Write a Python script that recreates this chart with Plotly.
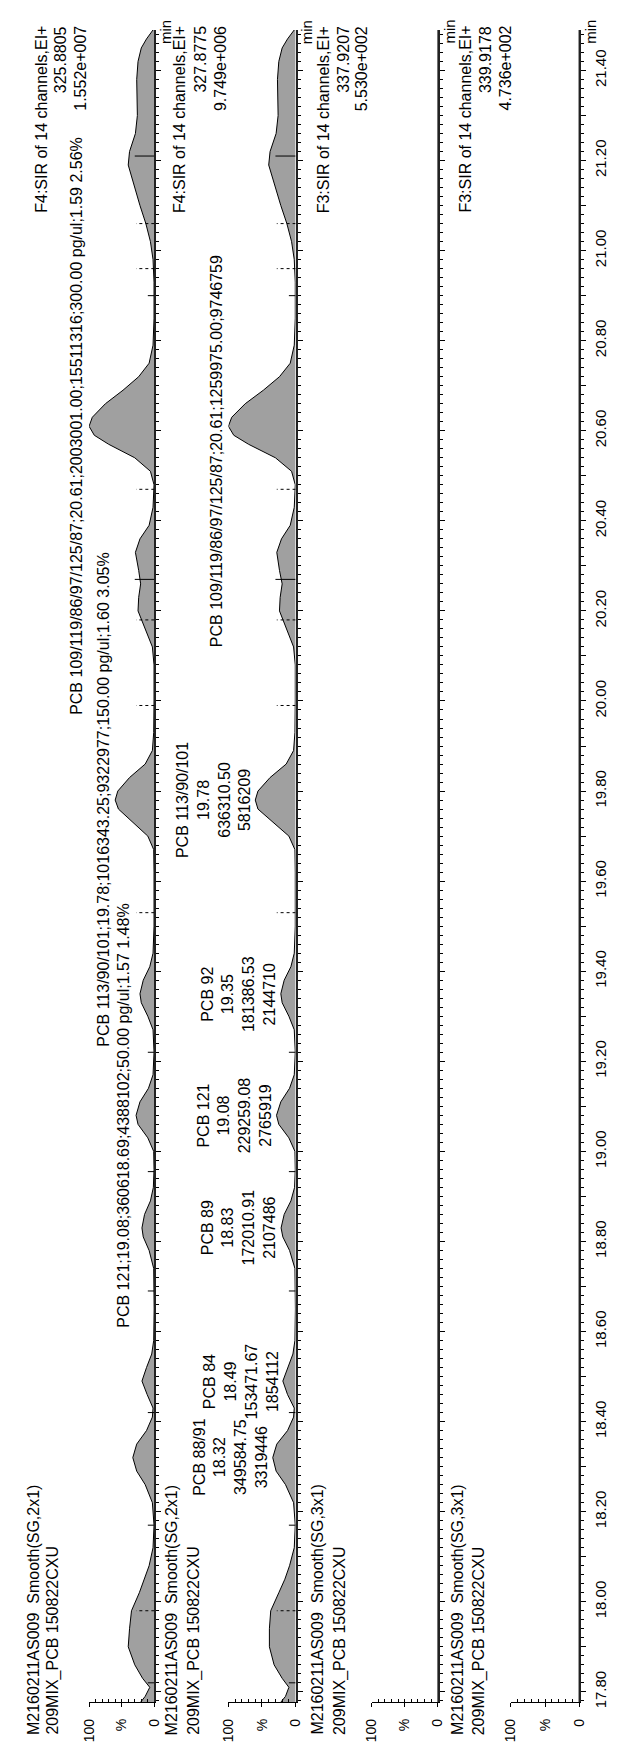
import plotly.graph_objects as go

W, H = 621, 1750
FONT = "Liberation Sans, Arial, sans-serif"

# ---- chromatogram traces (retention time in min, intensity in % of panel max) ----
rt_p1 = [17.777, 17.79, 17.81, 17.83, 17.86, 17.90, 17.94, 17.98, 18.02, 18.05, 18.08, 18.12,
         18.17, 18.22, 18.26, 18.29, 18.32, 18.35, 18.38, 18.41, 18.43, 18.46, 18.49, 18.52,
         18.55, 18.58, 18.65, 18.74, 18.78, 18.81, 18.83, 18.86, 18.89, 18.92, 18.96, 19.00,
         19.03, 19.06, 19.08, 19.11, 19.14, 19.17, 19.22, 19.27, 19.30, 19.33, 19.35, 19.38,
         19.41, 19.44, 19.50, 19.62, 19.67, 19.70, 19.73, 19.76, 19.78, 19.80, 19.83, 19.86,
         19.89, 19.93, 20.00, 20.08, 20.12, 20.16, 20.20, 20.23, 20.26, 20.29, 20.33, 20.36,
         20.39, 20.43, 20.48, 20.51, 20.54, 20.57, 20.59, 20.61, 20.63, 20.66, 20.69, 20.72,
         20.75, 20.79, 20.85, 20.93, 20.98, 21.02, 21.06, 21.10, 21.15, 21.19, 21.22, 21.26,
         21.30, 21.34, 21.38, 21.42, 21.45, 21.47, 21.49]
int_p1 = [21, 14, 7, 18, 30, 40, 38, 35, 23, 15, 8, 2,
          0.5, 3, 14, 27, 33, 27, 12, 3, 2, 11, 19, 12,
          4, 1, 0.3, 1, 8, 17, 19, 15, 6, 1.5, 0.5, 1,
          10, 25, 28, 22, 9, 2, 0.5, 2, 10, 20, 22, 17,
          7, 2, 0.5, 0.5, 1, 10, 33, 55, 60, 56, 38, 14,
          3, 1, 0.5, 0.5, 3, 14, 25, 24, 21, 24, 29, 22,
          8, 2, 0.5, 6, 30, 70, 92, 100, 95, 75, 48, 24,
          8, 2, 0.5, 0.5, 2, 6, 13, 22, 32, 40, 38, 29,
          26, 27, 27, 25, 20, 12, 2]

rt_p2 = rt_p1
int_p2 = [22, 15, 10, 20, 32, 39, 39, 37, 25, 16, 9, 2,
          0.5, 3, 15, 29, 34, 28, 12, 3, 2, 12, 19, 12,
          4, 1, 0.3, 1, 9, 19, 21.6, 17, 7, 1.5, 0.5, 1,
          10, 25, 28.4, 22, 9, 2, 0.5, 2, 10, 20, 22, 17,
          7, 2, 0.5, 0.5, 1, 10, 33, 56, 60, 56, 38, 14,
          3, 1, 0.5, 0.5, 3, 14, 24, 23, 20, 24, 28, 21,
          8, 2, 0.5, 6, 30, 70, 92, 100, 95, 75, 48, 24,
          8, 2, 0.5, 0.5, 2, 6, 13, 22, 32, 40, 38, 29,
          26, 26, 27, 25, 20, 12, 2]

rt_flat = [17.777, 21.49]
int_flat = [0, 0]

# integration marks on panels 1 and 2 (min)
short_marks = [17.82, 18.17, 18.42, 18.69, 18.955, 19.22, 20.90]
long_marks = [20.27, 21.21]
dotted_marks = [17.98, 19.53, 19.99, 20.18, 20.47, 20.96, 21.06]

time_labels = ["17.80", "18.00", "18.20", "18.40", "18.60", "18.80", "19.00", "19.20", "19.40",
               "19.60", "19.80", "20.00", "20.20", "20.40", "20.60", "20.80", "21.00", "21.20", "21.40"]

# panel headers
sample_line = ["M2160211AS009  Smooth(SG,2x1)", "M2160211AS009  Smooth(SG,2x1)",
               "M2160211AS009  Smooth(SG,3x1)", "M2160211AS009  Smooth(SG,3x1)"]
sample_name = "209MIX_PCB 150822CXU"
channel_fn = ["F4:SIR of 14 channels,EI+", "F4:SIR of 14 channels,EI+",
              "F3:SIR of 14 channels,EI+", "F3:SIR of 14 channels,EI+"]
channel_mass = ["325.8805", "327.8775", "337.9207", "339.9178"]
channel_max = ["1.552e+007", "9.749e+006", "5.530e+002", "4.736e+002"]

# peak labels, panel 1 (single line)
p1_rt = [19.08, 19.78, 20.61]
p1_height = [4388102, 9322977, 15511316]
p1_text = ["PCB 121;19.08;360618.69;4388102;50.00 pg/ul;1.57 1.48%",
           "PCB 113/90/101;19.78;1016343.25;9322977;150.00 pg/ul;1.60 3.05%",
           "PCB 109/119/86/97/125/87;20.61;2003001.00;15511316;300.00 pg/ul;1.59 2.56%"]
p1_max = 1.552e7

# peak labels, panel 2 (stacked)
p2_name = ["PCB 88/91", "PCB 84", "PCB 89", "PCB 121", "PCB 92", "PCB 113/90/101"]
p2_rt = ["18.32", "18.49", "18.83", "19.08", "19.35", "19.78"]
p2_area = ["349584.75", "153471.67", "172010.91", "229259.08", "181386.53", "636310.50"]
p2_height = [3319446, 1854112, 2107486, 2765919, 2144710, 5816209]
p2_single_text = "PCB 109/119/86/97/125/87;20.61;1259975.00;9746759"
p2_single_rt = 20.61
p2_single_height = 9746759
p2_max = 9.749e6

# ---- layout geometry (pixels) ----
x100 = [75, 218, 365, 508]
x0 = [142, 287, 433, 578]
y_bot, y_top = 1700, 22
t_start, t_end = 17.777, 21.49

fig = go.Figure()
traces = [(rt_p1, int_p1), (rt_p2, int_p2), (rt_flat, int_flat), (rt_flat, int_flat)]
layout = {}
tickv = [round(17.8 + 0.1 * k, 1) for k in range(37)]
tickt = [f"{v:.2f}" if f"{v:.2f}" in time_labels else "" for v in tickv]
for i, (rt, inten) in enumerate(traces):
    xs = "x" if i == 0 else f"x{i+1}"
    ys = "y" if i == 0 else f"y{i+1}"
    fig.add_trace(go.Scatter(
        x=inten, y=rt, xaxis=xs, yaxis=ys, mode="lines",
        fill="tozerox" if i < 2 else None, fillcolor="#a0a0a0",
        line=dict(color="black", width=1), hoverinfo="skip"))

    layout["xaxis" if i == 0 else f"xaxis{i+1}"] = dict(
        domain=[x100[i] / W, x0[i] / W], range=[100, 0], anchor=ys, side="bottom",
        showline=True, linecolor="black", linewidth=1.2, showgrid=False, zeroline=False,
        tickvals=[100, 50, 0], ticktext=["100", "%", "0"], tickangle=-90,
        ticks="outside", ticklen=4, tickcolor="black", ticklabelstandoff=6,
        tickfont=dict(size=14, family=FONT, color="black"),
        minor=dict(tickvals=list(range(10, 100, 10)), ticks="inside", ticklen=3, tickcolor="black"))
    layout["yaxis" if i == 0 else f"yaxis{i+1}"] = dict(
        domain=[1 - y_bot / H, 1 - y_top / H], range=[t_start, t_end], anchor=xs, side="right",
        showline=True, linecolor="#222222", linewidth=2, showgrid=False, zeroline=False,
        tickvals=tickv, ticktext=tickt, ticks="outside", ticklen=5, tickcolor="black",
        showticklabels=(i == 3), tickangle=-90, ticklabelstandoff=2,
        tickfont=dict(size=15, family=FONT, color="black"),
        minor=dict(dtick=0.02, tick0=17.8, ticks="outside", ticklen=3, tickcolor="black"))

fig.update_layout(**layout)


def vtext(x_px, y_px, text, yanchor, size=16):
    fig.add_annotation(x=x_px / W, y=1 - y_px / H, xref="paper", yref="paper", text=text,
                       textangle=-90, showarrow=False, xanchor="center", yanchor=yanchor,
                       font=dict(size=size, family=FONT, color="black"))


# headers at bottom-left and top-right of each panel
hdr1_x = [18, 160, 310, 453]
hdr2_x = [38, 182, 332, 475]
fn_x = [26, 168, 316, 461]
mass_x = [46, 189, 336, 482]
max_x = [66, 210, 355, 502]
for i in range(4):
    vtext(hdr1_x[i], 1735, sample_line[i], "bottom")
    vtext(hdr2_x[i], 1735, sample_name, "bottom")
    vtext(fn_x[i], 16, channel_fn[i], "top")
    vtext(mass_x[i], 16, channel_mass[i], "top")
    vtext(max_x[i], 16, channel_max[i], "top")
    vtext(x0[i] + 12, 10, "min", "top", size=15)

# peak labels
for rt, h, txt in zip(p1_rt, p1_height, p1_text):
    fig.add_annotation(x=h / p1_max * 100, y=rt, xref="x", yref="y", text=txt, textangle=-90,
                       showarrow=False, xanchor="right", yanchor="middle", xshift=-2,
                       font=dict(size=16, family=FONT, color="black"))
for name, rt, area, h in zip(p2_name, p2_rt, p2_area, p2_height):
    fig.add_annotation(x=h / p2_max * 100, y=float(rt), xref="x2", yref="y2",
                       text="<br>".join([name, rt, area, str(h)]), align="center",
                       textangle=-90, showarrow=False, xanchor="right", yanchor="middle", xshift=-1,
                       font=dict(size=16, family=FONT, color="black"))
fig.add_annotation(x=p2_single_height / p2_max * 100, y=p2_single_rt, xref="x2", yref="y2",
                   text=p2_single_text, textangle=-90, showarrow=False, xanchor="right",
                   yanchor="middle", xshift=-2, yshift=-25,
                   font=dict(size=16, family=FONT, color="black"))

# integration marks
for xs, ys in [("x", "y"), ("x2", "y2")]:
    for group, length, dash in [(short_marks, 10, "solid"), (long_marks, 30, "solid"),
                                (dotted_marks, 28, "dot")]:
        for t in group:
            fig.add_shape(type="line", xref=xs, yref=ys, x0=0, x1=length, y0=t, y1=t,
                          line=dict(color="black", width=1, dash=dash))

fig.update_layout(width=W, height=H, margin=dict(l=0, r=0, t=0, b=0),
                  plot_bgcolor="white", paper_bgcolor="white", showlegend=False)

fig.write_html("out.html")
